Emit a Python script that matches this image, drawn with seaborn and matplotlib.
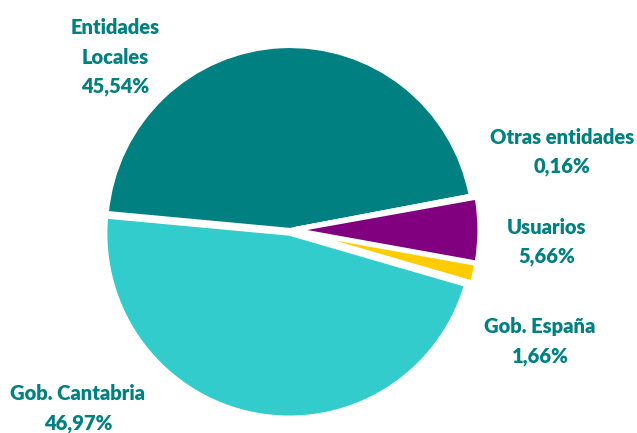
import matplotlib
matplotlib.use("Agg")
import matplotlib.pyplot as plt
import seaborn as sns

# Data
categories = ["Entidades Locales", "Otras entidades", "Usuarios", "Gob. España", "Gob. Cantabria"]
shares = [45.54, 0.16, 5.66, 1.66, 46.97]
label_texts = ["Entidades\nLocales", "Otras entidades", "Usuarios", "Gob. España", "Gob. Cantabria"]
colors = ["#008080", "#FFFFFF", "#800080", "#FFCC00", "#33CCCC"]

sns.set_theme(style="white")
plt.rcParams["font.family"] = ["Lato", "DejaVu Sans"]

W, H = 637, 433
cx, cy, R = 290, 230, 184  # pie centre and radius in pixels

fig = plt.figure(figsize=(W / 100, H / 100), dpi=100)
ax = fig.add_axes([0, 0, 1, 1])

ax.pie(
    shares,
    colors=colors,
    startangle=174.7,
    counterclock=False,
    explode=[0.0, 0.03, 0.03, 0.03, 0.02],
    wedgeprops={"edgecolor": "white", "linewidth": 3},
)

ax.set_xlim(-cx / R, (W - cx) / R)
ax.set_ylim(-(H - cy) / R, cy / R)
ax.set_aspect("auto")
ax.axis("off")


def px(x, y):
    return (x - cx) / R, (cy - y) / R


# label positions (pixel centres of the first line)
label_pos = [(115, 27), (562, 137), (547, 227), (540, 327), (78, 393)]
for txt, val, (lx, ly) in zip(label_texts, shares, label_pos):
    lines = txt.split("\n") + [f"{val:.2f}%".replace(".", ",")]
    for i, line in enumerate(lines):
        x, y = px(lx, ly + 30 * i)
        ax.text(x, y, line, ha="center", va="center", fontsize=14.5,
                fontweight="heavy", color="#008080")

fig.savefig("out.png", dpi=100)
